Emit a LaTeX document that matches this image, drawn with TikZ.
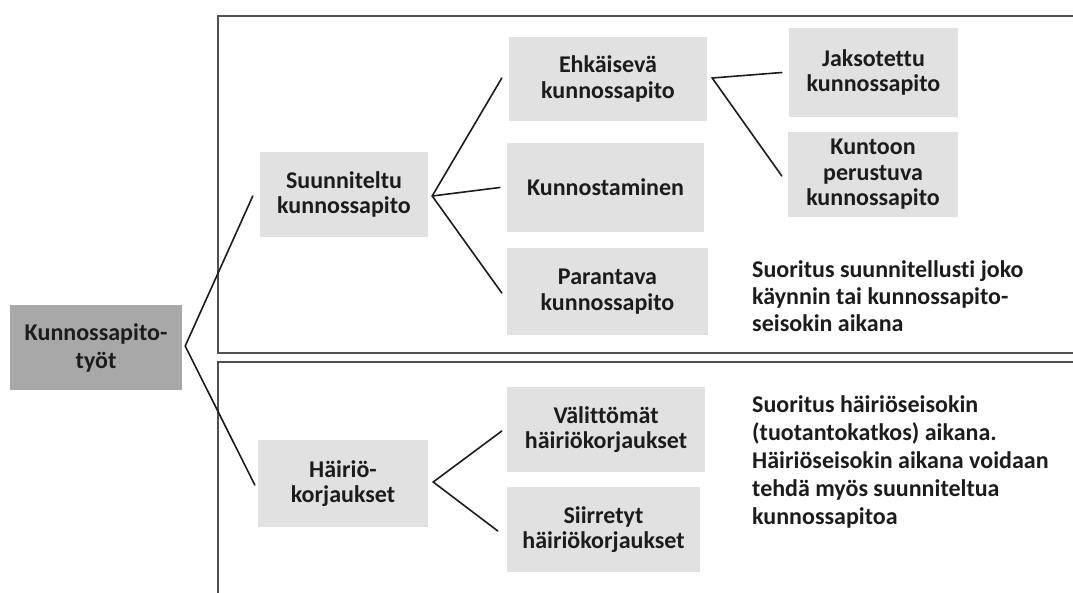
\documentclass[tikz,border=0pt]{standalone}
\usepackage{fontspec}
\setmainfont{Carlito}[Ligatures=NoCommon]
\definecolor{boxgray}{HTML}{E1E1E1}
\definecolor{rootgray}{HTML}{A8A8A8}
\definecolor{framegray}{HTML}{505050}
\definecolor{inkgray}{HTML}{1C1C1C}
\begin{document}
\begin{tikzpicture}[x=1pt,y=-1pt,
  box/.style={fill=boxgray, align=center, inner sep=0pt, font=\bfseries\fontsize{24}{25.5}\selectfont, text=inkgray},
  link/.style={line width=1.6pt, inkgray, line cap=round},
  frame/.style={line width=2pt, draw=framegray},
  note/.style={anchor=north west, align=left, inner sep=0pt, text=inkgray}]
\useasboundingbox (0,0) rectangle (1073,592);
\begin{scope}
\clip (0,0) rectangle (1073,592);
\draw[frame] (1090,16) -- (218,16) -- (218,353) -- (1090,353);
\draw[frame] (1090,362) -- (218,362) -- (218,600);
\end{scope}

\node[box, fill=rootgray, minimum width=172pt, minimum height=85pt, font=\bfseries\fontsize{24}{28}\selectfont] (root) at (96,347.5) {Kunnossapito-\\työt};
\node[box, minimum width=168pt, minimum height=85pt] (suun) at (344,194.5) {Suunniteltu\\kunnossapito};
\node[box, minimum width=198pt, minimum height=84pt] (ehk) at (608,79) {Ehkäisevä\\kunnossapito};
\node[box, minimum width=197pt, minimum height=89pt] (kunn) at (605.5,187.5) {Kunnostaminen};
\node[box, minimum width=201pt, minimum height=87pt] (par) at (607.5,291.5) {Parantava\\kunnossapito};
\node[box, minimum width=169pt, minimum height=89pt] (jak) at (873.5,72.5) {Jaksotettu\\kunnossapito};
\node[box, minimum width=170pt, minimum height=85pt] (kunt) at (873,174.5) {Kuntoon\\perustuva\\kunnossapito};
\node[box, minimum width=170pt, minimum height=87pt] (hai) at (343,483.5) {Häiriö-\\korjaukset};
\node[box, minimum width=198pt, minimum height=85pt] (val) at (606,429.5) {Välittömät\\häiriökorjaukset};
\node[box, minimum width=193pt, minimum height=85pt] (sii) at (603.5,529.5) {Siirretyt\\häiriökorjaukset};

\node[note, font=\bfseries\fontsize{24}{27}\selectfont] (n1) at (752,260) {Suoritus suunnitellusti joko\\käynnin tai kunnossapito-\\seisokin aikana};
\node[note, font=\bfseries\fontsize{24}{28}\selectfont] (n2) at (752,395) {Suoritus häiriöseisokin\\(tuotantokatkos) aikana.\\Häiriöseisokin aikana voidaan\\tehdä myös suunniteltua\\kunnossapitoa};

\coordinate (rv) at ([xshift=3pt,yshift=1.5pt]root.east);
\coordinate (sv) at ([xshift=4pt,yshift=-1.5pt]suun.east);
\coordinate (ev) at ([xshift=5pt,yshift=1pt]ehk.east);
\coordinate (hv) at ([xshift=5pt,yshift=1.5pt]hai.east);

\draw[link] ([xshift=-7pt,yshift=-1.5pt]suun.west) -- (rv) -- ([xshift=-3pt,yshift=-1.5pt]hai.west);
\draw[link] ([xshift=-7pt,yshift=1pt]ehk.west) -- (sv) -- ([xshift=-5pt,yshift=-1.5pt]par.west);
\draw[link] (sv) -- ([xshift=-7pt]kunn.west);
\draw[link] ([xshift=-7pt]jak.west) -- (ev) -- ([xshift=-6pt,yshift=-1.5pt]kunt.west);
\draw[link] ([xshift=-5pt,yshift=-1.5pt]val.west) -- (hv) -- ([xshift=-9pt,yshift=-1.5pt]sii.west);
\end{tikzpicture}
\end{document}
